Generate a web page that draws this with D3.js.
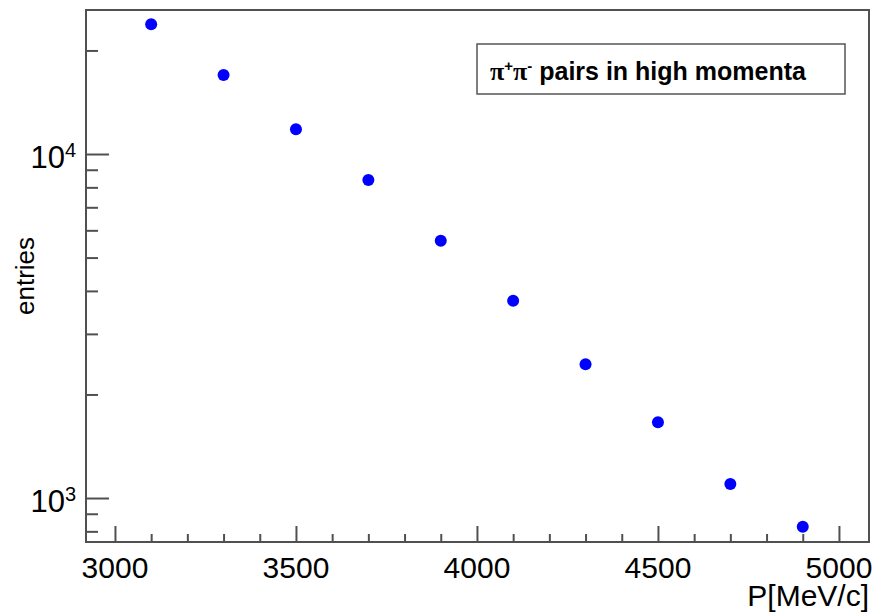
<!DOCTYPE html>
<html>
<head>
<meta charset="utf-8">
<script src="https://cdn.jsdelivr.net/npm/d3@7"></script>
<style>
  body { margin: 0; background: #fff; }
  text { font-family: "Liberation Sans", Arial, Helvetica, sans-serif; fill: #000; }
</style>
</head>
<body>
<div id="chart"></div>
<script>
// Data
const momenta = [3100, 3300, 3500, 3700, 3900, 4100, 4300, 4500, 4700, 4900];
const entries = [23830, 16970, 11800, 8400, 5600, 3745, 2447, 1660, 1098, 825];
const xMajorTicks = [3000, 3500, 4000, 4500, 5000];
const xMinorTicks = [3100, 3200, 3300, 3400, 3600, 3700, 3800, 3900, 4100, 4200, 4300, 4400, 4600, 4700, 4800, 4900];
const yMajorExponents = [3, 4];
const yMinorTicks = [800, 900, 2000, 3000, 4000, 5000, 6000, 7000, 8000, 9000, 20000];

// Size of the SVG container and the frame
const width = 878;
const height = 614;
const frame = { left: 86, top: 10, right: 869, bottom: 542 };
const axisColor = "#505050";

const svg = d3.select("#chart")
  .append("svg")
  .attr("width", width)
  .attr("height", height);

// Scales
const xScale = d3.scaleLinear()
  .domain([2920, 5083])
  .range([frame.left, frame.right]);

const yScale = d3.scaleLog()
  .domain([745, 26220])
  .range([frame.bottom, frame.top]);

// X axis: major and minor ticks
const xMajor = svg.append("g")
  .attr("transform", "translate(0," + frame.bottom + ")")
  .call(d3.axisBottom(xScale).tickValues(xMajorTicks).tickSize(-16).tickFormat(""));
const xMinor = svg.append("g")
  .attr("transform", "translate(0," + frame.bottom + ")")
  .call(d3.axisBottom(xScale).tickValues(xMinorTicks).tickSize(-8).tickFormat(""));

// Y axis: major and minor ticks
const yMajor = svg.append("g")
  .attr("transform", "translate(" + frame.left + ",0)")
  .call(d3.axisLeft(yScale).tickValues(yMajorExponents.map(e => Math.pow(10, e))).tickSize(-23).tickFormat(""));
const yMinor = svg.append("g")
  .attr("transform", "translate(" + frame.left + ",0)")
  .call(d3.axisLeft(yScale).tickValues(yMinorTicks).tickSize(-12).tickFormat(""));

[xMajor, xMinor, yMajor, yMinor].forEach(g => {
  g.select(".domain").remove();
  g.selectAll("line").attr("stroke", axisColor).attr("stroke-width", 2);
});

// Frame
svg.append("rect")
  .attr("x", frame.left)
  .attr("y", frame.top)
  .attr("width", frame.right - frame.left)
  .attr("height", frame.bottom - frame.top)
  .attr("fill", "none")
  .attr("stroke", axisColor)
  .attr("stroke-width", 2);

// X tick labels
svg.selectAll(".xlabel")
  .data(xMajorTicks)
  .enter()
  .append("text")
  .attr("class", "xlabel")
  .attr("x", d => xScale(d))
  .attr("y", 578)
  .attr("text-anchor", "middle")
  .style("font-size", "30px")
  .text(d => d);

// Y tick labels as 10^n
const yLabels = svg.selectAll(".ylabel")
  .data(yMajorExponents)
  .enter()
  .append("text")
  .attr("class", "ylabel")
  .attr("x", 76)
  .attr("y", d => yScale(Math.pow(10, d)) + 14)
  .attr("text-anchor", "end")
  .style("font-size", "31px");
yLabels.append("tspan").text("10");
yLabels.append("tspan")
  .attr("dy", -11)
  .style("font-size", "20px")
  .text(d => d);

// Axis titles
svg.append("text")
  .attr("x", frame.right)
  .attr("y", 606)
  .attr("text-anchor", "end")
  .style("font-size", "30px")
  .text("P[MeV/c]");

svg.append("text")
  .attr("transform", "translate(34,276) rotate(-90)")
  .attr("text-anchor", "middle")
  .style("font-size", "26px")
  .text("entries");

// Points
svg.selectAll("circle")
  .data(momenta)
  .enter()
  .append("circle")
  .attr("cx", d => xScale(d))
  .attr("cy", (d, i) => yScale(entries[i]))
  .attr("r", 6)
  .attr("fill", "#0000ff");

// Legend box
svg.append("rect")
  .attr("x", 477)
  .attr("y", 44)
  .attr("width", 368)
  .attr("height", 50)
  .attr("fill", "#fff")
  .attr("stroke", "#555")
  .attr("stroke-width", 1.5);

const legend = svg.append("text")
  .attr("x", 490)
  .attr("y", 80);
legend.append("tspan").style("font-family", "'Liberation Serif', serif").style("font-size", "26px").style("font-weight", "bold").text("π");
legend.append("tspan").attr("dy", -9).style("font-size", "15px").style("font-weight", "bold").text("+");
legend.append("tspan").attr("dy", 9).style("font-family", "'Liberation Serif', serif").style("font-size", "26px").style("font-weight", "bold").text("π");
legend.append("tspan").attr("dy", -9).style("font-size", "15px").style("font-weight", "bold").text("-");
legend.append("tspan").attr("dy", 9).style("font-size", "25px").style("font-weight", "bold").text(" pairs in high momenta");
</script>
</body>
</html>
